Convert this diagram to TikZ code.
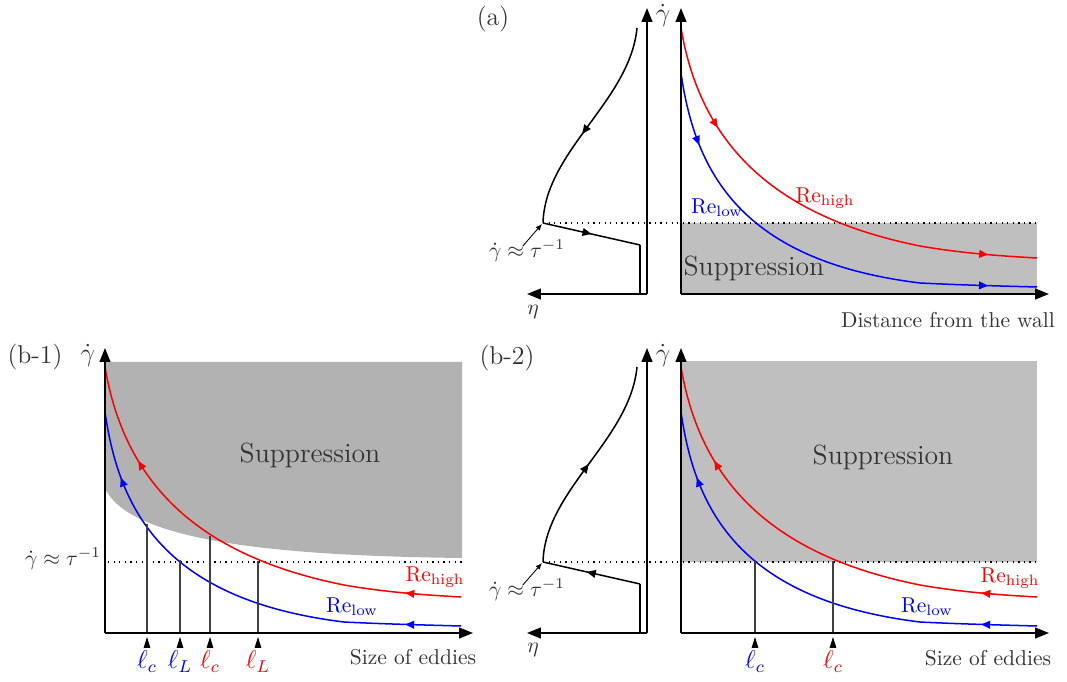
\documentclass[tikz,border=0pt]{standalone}
\usetikzlibrary{arrows.meta,positioning,decorations.markings}

% Re curves and the eta loop, as they sit in panel (b-2)
\newcommand{\redRe}{(681,367) .. controls (700,480) and (770,555) .. (920,585) .. controls (960,592) and (1000,595) .. (1037,597)}
\newcommand{\blueRe}{(681,412) .. controls (695,510) and (740,600) .. (920,622) .. controls (960,624) and (1000,625) .. (1037,626)}
\newcommand{\etaRe}{(543,562) .. controls (545,490) and (630,440) .. (637,367)}

\begin{document}
\begin{tikzpicture}[
  x=0.465pt, y=-0.465pt,
  axis/.style={line width=0.9pt, -{Triangle[length=6.5pt,width=5pt]}},
  rline/.style={red, line width=0.7pt},
  bline/.style={blue, line width=0.7pt},
  eline/.style={black, line width=0.7pt},
  thr/.style={dotted, line width=0.6pt},
  drop/.style={black!75, line width=0.5pt},
  tick/.style={-{Triangle[length=5pt,width=3pt]}, line width=0.5pt},
  pointer/.style={-{Latex[length=3pt,width=2.5pt]}, line width=0.4pt},
  supA/.style={fill=black!25},
  supB/.style={fill=black!30},
  txt/.style={text=black!80, inner sep=1pt},
  big/.style={txt, font=\large},
  supl/.style={txt, font=\fontsize{12.9}{15}\selectfont},
  ell/.style={inner sep=1pt, font=\large, anchor=north},
  fwd/.style={postaction={decorate, decoration={markings,
      mark=at position #1 with {\arrow{Triangle[length=4.2pt,width=3.6pt]}}}}},
  bwd/.style={postaction={decorate, decoration={markings,
      mark=at position #1 with {\arrowreversed{Triangle[length=4.2pt,width=3.6pt]}}}}}
]
\useasboundingbox (0,0) rectangle (1067,682);

% ---------- (a) ----------
\fill[supA] (681,223) rectangle (1037,294);
\draw[thr] (543,223) -- (1037,223);
\draw[rline, shift={(0,-339)}, fwd=0.23, fwd=0.895] \redRe;
\draw[bline, shift={(0,-339)}, fwd=0.16, fwd=0.895] \blueRe;
\draw[eline] (640,294) -- (640,245);
\draw[eline, bwd=0.5] (640,245) -- (543,223);
\draw[eline, shift={(0,-339)}, bwd=0.45] \etaRe;
\draw[axis] (647,294) -- (527,294);
\draw[axis] (647,294) -- (647,8);
\draw[axis] (681,294) -- (681,8);
\draw[axis] (681,294) -- (1049,294);

\node[big] (pa) at (493,19) {(a)};
\node[big] (ga) at (663,15) {$\dot\gamma$};
\node[txt] (etaA) at (533,312) {$\eta$};
\node[txt] (tauA) at (527,251) {$\dot\gamma\approx\tau^{-1}$};
\coordinate (kneeA) at (542,224);
\draw[pointer] ([xshift=-2pt,yshift=-4pt]tauA.north) -- (kneeA);
\node[supl, anchor=west] (supTa) at (681,268) {Suppression};
\node[txt, red] (hiA) at (825,198) {Re$_{\mathrm{high}}$};
\node[txt, blue] (loA) at (717,208) {Re$_{\mathrm{low}}$};
\node[txt] (xa) at (948,320) {Distance from the wall};

% ---------- (b-1) ----------
\fill[supB] (105,362) -- (462,362) -- (462,558) .. controls (300,556) and (130,545) .. (105,488) -- cycle;
\draw[thr] (108,562) -- (462,562);
\draw[rline, shift={(-576,0)}, bwd=0.215, bwd=0.88] \redRe;
\draw[bline, shift={(-576,0)}, bwd=0.145, bwd=0.88] \blueRe;
\draw[drop] (147,524) -- (147,633);
\draw[drop] (180,560) -- (180,633);
\draw[drop] (210,536) -- (210,633);
\draw[drop] (258,561) -- (258,633);
\draw[axis] (105,633) -- (105,348);
\draw[axis] (105,633) -- (473,633);

\node[big] (pb1) at (35,357) {(b-1)};
\node[big] (gb1) at (88,355) {$\dot\gamma$};
\node[txt] (tauC) at (63,559) {$\dot\gamma\approx\tau^{-1}$};
\node[supl] (supTc) at (310,455) {Suppression};
\node[txt, red] (hiC) at (435,577) {Re$_{\mathrm{high}}$};
\node[txt, blue] (loC) at (352,607) {Re$_{\mathrm{low}}$};
\node[txt] (xc) at (413,657) {Size of eddies};
\coordinate (tickC1) at (147,637);
\coordinate (tickC2) at (180,637);
\coordinate (tickC3) at (210,637);
\coordinate (tickC4) at (258,637);
\node[ell, blue] (lcC1) at (147,648) {$\ell_c$};
\node[ell, blue] (lLC1) at (180,648) {$\ell_L$};
\node[ell, red] (lcC2) at (210,648) {$\ell_c$};
\node[ell, red] (lLC2) at (258,648) {$\ell_L$};
\draw[tick] (lcC1.north) -- (tickC1);
\draw[tick] (lLC1.north) -- (tickC2);
\draw[tick] (lcC2.north) -- (tickC3);
\draw[tick] (lLC2.north) -- (tickC4);

% ---------- (b-2) ----------
\fill[supA] (681,361) rectangle (1037,562);
\draw[thr] (543,562) -- (1037,562);
\draw[rline, bwd=0.215, bwd=0.88] \redRe;
\draw[bline, bwd=0.145, bwd=0.88] \blueRe;
\draw[drop] (755,561) -- (755,633);
\draw[drop] (833,561) -- (833,633);
\draw[eline] (640,633) -- (640,584);
\draw[eline, fwd=0.55] (640,584) -- (543,562);
\draw[eline, fwd=0.5] \etaRe;
\draw[axis] (647,633) -- (527,633);
\draw[axis] (647,633) -- (647,348);
\draw[axis] (681,633) -- (681,348);
\draw[axis] (681,633) -- (1049,633);

\node[big] (pb2) at (507,358) {(b-2)};
\node[big] (gb2) at (663,355) {$\dot\gamma$};
\node[txt] (etaB) at (533,650) {$\eta$};
\node[txt] (tauB) at (527,590) {$\dot\gamma\approx\tau^{-1}$};
\coordinate (kneeB) at (542,563);
\draw[pointer] ([xshift=-2pt,yshift=-4pt]tauB.north) -- (kneeB);
\node[supl] (supTb) at (883,457) {Suppression};
\node[txt, red] (hiB) at (1010,578) {Re$_{\mathrm{high}}$};
\node[txt, blue] (loB) at (927,607) {Re$_{\mathrm{low}}$};
\node[txt] (xb) at (988,658) {Size of eddies};
\coordinate (tickB1) at (755,637);
\coordinate (tickB2) at (833,637);
\node[ell, blue] (lcB1) at (755,648) {$\ell_c$};
\node[ell, red] (lcB2) at (833,648) {$\ell_c$};
\draw[tick] (lcB1.north) -- (tickB1);
\draw[tick] (lcB2.north) -- (tickB2);
\end{tikzpicture}
\end{document}
